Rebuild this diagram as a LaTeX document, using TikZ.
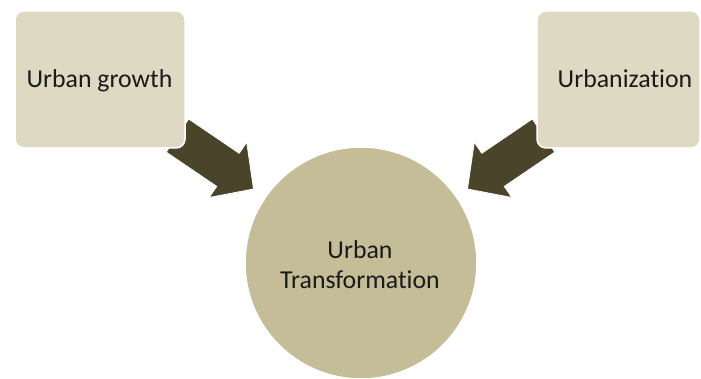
\documentclass[tikz,border=0pt]{standalone}
\usepackage{fontspec}
\setmainfont[Ligatures={NoCommon}]{Carlito}
\definecolor{boxfill}{HTML}{DDD9C3}
\definecolor{circfill}{HTML}{C4BD97}
\definecolor{arrowfill}{HTML}{4A452A}
\definecolor{txt}{HTML}{1A1A1A}
\begin{document}
\begin{tikzpicture}[x=1pt,y=-1pt,
  sourcebox/.style={draw=white,line width=1.5pt,fill=boxfill,rounded corners=9pt,inner sep=0pt},
  bigcircle/.style={circle,draw=white,line width=1.5pt,fill=circfill,inner sep=0pt,minimum size=232pt},
  blockarrow/.style={fill=arrowfill,draw=white,line width=0.8pt},
  label/.style={text=txt,font=\fontsize{25.8}{30}\selectfont,inner sep=0pt}]
\useasboundingbox (0,0) rectangle (701,379);
% block arrows
\draw[blockarrow] (188.7,119.0) -- (239.2,153.3) -- (246.7,142.2) -- (253.5,189) -- (209.2,197.5) -- (216.7,186.4) -- (166.2,152.1) -- cycle;
\draw[blockarrow] (532.3,119.0) -- (481.8,153.3) -- (474.3,142.2) -- (467.5,189) -- (511.8,197.5) -- (504.3,186.4) -- (554.8,152.1) -- cycle;
% boxes
\node[sourcebox,minimum width=170pt,minimum height=137pt] (growth) at (100,79.5) {};
\node[sourcebox,minimum width=163pt,minimum height=137pt] (urbanization) at (618.5,79.5) {};
\node[label,anchor=base] (growthtxt) at (99.5,88) {Urban growth};
\node[label,anchor=base] (urbtxt) at (625,88) {Urbanization};
% circle
\node[bigcircle] (transformation) at (361,263) {};
\node[label,align=center,anchor=base] (ttxt) at (360,288) {Urban\\Transformation};
\end{tikzpicture}
\end{document}
